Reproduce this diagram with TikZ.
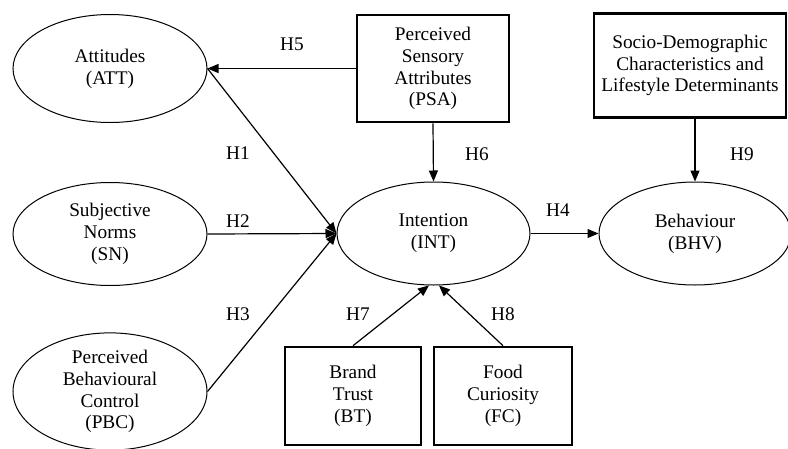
\documentclass[tikz,border=0pt]{standalone}
\usepackage{fontspec}
\setmainfont{Liberation Serif}
\usetikzlibrary{arrows.meta,shapes.geometric}
\begin{document}
\begin{tikzpicture}[x=1pt,y=-1pt,
 txt/.style={font=\fontsize{19.3}{21.8}\selectfont, align=center, inner sep=0pt},
 ell/.style={txt, draw, ellipse, line width=1pt, minimum width=194pt, minimum height=103pt},
 box/.style={txt, draw, rectangle, line width=2.6pt},
 lab/.style={font=\fontsize{19.3}{21.8}\selectfont, inner sep=0pt},
 arr/.style={-{Triangle[length=11pt,width=9pt]}, line width=1.2pt}]
\useasboundingbox[fill=white] (0,0) rectangle (788,448);

% ellipses
\node[ell, minimum height=108pt] (ATT) at (110,68.5) {Attitudes\\(ATT)};
\node[ell] (SN)  at (110,234) {Subjective\\Norms\\(SN)};
\node[ell] (PBC) at (110,391.5) {Perceived\\Behavioural\\Control\\(PBC)};
\node[ell, minimum width=193pt] (INT) at (433.5,233.5) {Intention\\(INT)};
\node[ell, minimum width=192pt] (BHV) at (695,233.5) {Behaviour\\(BHV)};

% boxes
\node[box, minimum width=152pt, minimum height=107pt] (PSA) at (433,68.5) {Perceived\\Sensory\\Attributes\\(PSA)};
\node[box, minimum width=192pt, minimum height=104pt] (SDC) at (690,65.5) {Socio-Demographic\\Characteristics and\\Lifestyle Determinants};
\node[box, minimum width=136pt, minimum height=98pt] (BT) at (353,396) {Brand\\Trust\\(BT)};
\node[box, minimum width=138pt, minimum height=98pt] (FC) at (503,396) {Food\\Curiosity\\(FC)};

% connectors
\draw[arr] (PSA.west) -- (ATT.east);
\draw[arr] (ATT.east) -- (INT.west);
\draw[arr] (SN.east) -- (INT.west);
\draw[arr] (PBC.east) -- (INT.west);
\draw[arr] (PSA.south) -- (INT.north);
\draw[arr] (SDC.south -| BHV.north) -- (BHV.north);
\draw[arr] (INT.east) -- (BHV.west);
\draw[arr] (BT.north) -- (INT.-95);
\draw[arr] (FC.north) -- (INT.-84);

% labels
\node[lab] (h5) at (292,44) {H5};
\node[lab] (h1) at (238,153) {H1};
\node[lab] (h2) at (238,221) {H2};
\node[lab] (h3) at (238,314) {H3};
\node[lab] (h6) at (477,154) {H6};
\node[lab] (h9) at (742,154) {H9};
\node[lab] (h4) at (558,210) {H4};
\node[lab] (h7) at (358,314) {H7};
\node[lab] (h8) at (503,314) {H8};
\end{tikzpicture}
\end{document}
